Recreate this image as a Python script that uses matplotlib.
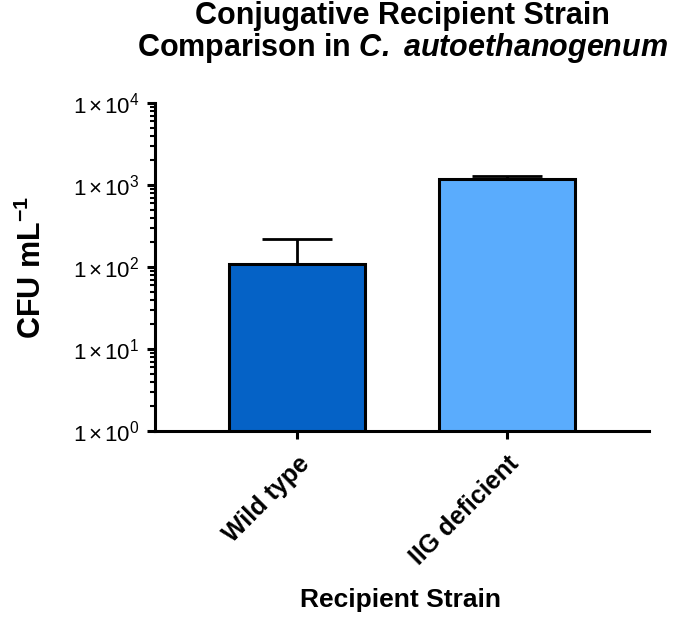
import numpy as np
import matplotlib
matplotlib.use("Agg")
import matplotlib.pyplot as plt
from matplotlib.ticker import FixedLocator, LogLocator, NullFormatter

strains = ["Wild type", "IIG deficient"]
cfu = [108, 1175]
cfu_err = [110, 113]
colors = ["#0562C6", "#5AACFD"]
yticks = [1, 10, 100, 1000, 10000]
ytick_labels = [r"$\mathregular{1\,{\times}\,10^{%d}}$" % i for i in range(5)]

plt.rcParams["font.family"] = "Liberation Sans"
plt.rcParams["mathtext.fontset"] = "custom"
plt.rcParams["mathtext.rm"] = "Liberation Sans"
plt.rcParams["mathtext.it"] = "Liberation Sans:italic"
plt.rcParams["mathtext.bf"] = "Liberation Sans:bold"
plt.rcParams["mathtext.bfit"] = "Liberation Sans:bold:italic"

fig = plt.figure(figsize=(6.77, 6.17), dpi=100)
ax = fig.add_axes([155 / 677, 1 - 431 / 617, 494 / 677, 328 / 617])

x = np.arange(len(strains))
ax.bar(x, cfu, width=0.65, color=colors, edgecolor="black", linewidth=2.2, zorder=2)
ax.errorbar(x, cfu, yerr=[np.zeros(len(cfu)), cfu_err], fmt="none",
            ecolor="black", elinewidth=2.0, capsize=25, capthick=2.0, zorder=1)

ax.set_yscale("log")
ax.set_ylim(1, 10000)
ax.set_xlim(-0.676, 1.676)
ax.yaxis.set_major_locator(FixedLocator(yticks))
ax.set_yticklabels(ytick_labels, fontsize=16)
ax.yaxis.set_minor_locator(LogLocator(base=10, subs=np.arange(2, 10)))
ax.yaxis.set_minor_formatter(NullFormatter())

ax.set_xticks(x)
ax.set_xticklabels(strains, rotation=45, ha="right", rotation_mode="anchor",
                   fontsize=18, fontweight="bold")

for s in ["top", "right"]:
    ax.spines[s].set_visible(False)
for s in ["left", "bottom"]:
    ax.spines[s].set_linewidth(2.2)
ax.tick_params(axis="both", which="major", length=6, width=2.2, pad=5)
ax.tick_params(axis="y", which="minor", length=3.5, width=1.5)
ax.tick_params(axis="x", pad=9)

ax.set_ylabel(r"CFU mL$^{\mathbf{-1}}$", fontsize=22, fontweight="bold", labelpad=18)
fig.text(401 / 677, 10 / 617, "Recipient Strain", ha="center", va="baseline",
         fontsize=19, fontweight="bold")

fig.text(0.594, 0.998, "Conjugative Recipient Strain\n"
         r"Comparison in $\mathbfit{C.\ autoethanogenum}$",
         ha="center", va="top", fontsize=22, fontweight="bold", linespacing=0.98)

fig.savefig("out.png", dpi=100)
